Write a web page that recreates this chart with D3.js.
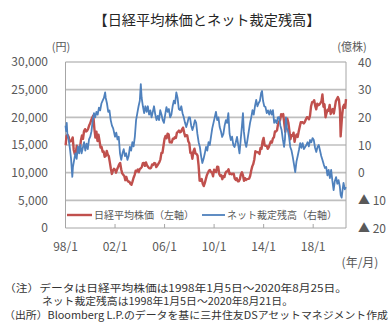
<!DOCTYPE html>
<html><head><meta charset="utf-8">
<script src="https://cdn.jsdelivr.net/npm/d3@7"></script>
<style>
html,body{margin:0;padding:0;background:#fff;}
svg{display:block;}
text{font-family:"Noto Sans CJK JP","Noto Sans",sans-serif;}
</style></head>
<body>
<svg id="c" width="391" height="324"></svg>
<script>
// ---- data ----
const title = "【日経平均株価とネット裁定残高】";
const nikkeiStart = 14956; // 1998-01-05
// month-end closes, Jan 1998 ... Jul 2020
const nikkeiMonthly = [
16628,16831,16527,15641,15671,15830,16379,14108,13406,13565,14883,13842,
14499,14367,15837,16701,16112,17530,17862,17437,17605,17942,18558,18934,
19540,19960,20337,17974,16332,17411,15727,16861,15747,14539,14649,13785,
13843,12883,12999,13934,13262,12969,11860,10713,9774,10366,10697,10542,
9997,10587,11024,11492,11763,10621,9877,9619,9383,8640,9215,8578,
8339,8363,7972,7831,8424,9083,9563,10343,10219,10559,10100,10676,
10783,11041,11715,11761,11236,11858,11325,11081,10823,10771,10899,11488,
11387,11740,11668,11008,11276,11584,11899,12413,13574,13606,14872,16111,
16649,16205,17059,16906,15467,15505,15456,16140,16127,16399,16274,17225,
17383,17604,17287,17400,17875,18138,17248,16569,16785,16737,15680,15307,
13592,13603,12525,13849,14338,13481,13376,13072,11259,8576,8512,8859,
7994,7568,8109,8828,9522,9958,10356,10492,10133,10034,9345,10546,
10198,10126,11089,11057,9768,9382,9537,8824,9369,9202,9937,10228,
10237,10624,9755,9849,9693,9816,9833,8955,8700,8988,8434,8455,
8802,9723,10083,9520,8542,9006,8695,8839,8870,8928,9446,10395,
11138,11559,12397,13860,13774,13677,13668,13388,14455,14327,15661,16291,
14914,14841,14827,14304,14632,15162,15620,15424,16173,16413,17459,17450,
17674,18797,19206,19520,20563,20235,20585,18890,17388,19083,19747,19033,
17518,16026,16758,16666,17234,15575,16569,16887,16449,17425,18308,19114,
19041,19118,18909,19196,19650,20033,19925,19646,20356,22011,22724,22764,
23098,22068,21454,22467,22201,22304,22553,22865,24120,21920,22351,20014,
20773,21385,21205,22258,20601,21275,21521,20704,21755,22927,23293,23656,
23205,21142,16552,20193,21877,22288,21710
];
const nikkeiEnd = 23296; // 2020-08-25

// net arbitrage balance (100M shares), decimal year / value
const arbYears = [
1998.00,1998.05,1998.10,1998.15,1998.25,1998.35,1998.45,1998.55,1998.60,1998.70,1998.80,1998.90,
1999.00,1999.10,1999.20,1999.30,1999.40,1999.50,1999.60,1999.70,1999.80,1999.90,
2000.00,2000.10,2000.20,2000.30,2000.40,2000.50,2000.60,2000.70,2000.80,2000.90,
2001.00,2001.10,2001.20,2001.25,2001.35,2001.45,2001.55,2001.65,2001.75,2001.85,
2002.00,2002.10,2002.20,2002.30,2002.40,2002.50,2002.60,2002.70,2002.80,2002.90,
2003.00,2003.10,2003.20,2003.30,2003.40,2003.50,2003.60,2003.70,2003.80,2003.90,
2004.00,2004.08,2004.15,2004.25,2004.35,2004.45,2004.55,2004.65,2004.75,2004.85,2004.95,
2005.05,2005.15,2005.25,2005.35,2005.45,2005.55,2005.65,2005.75,2005.85,2005.95,
2006.05,2006.15,2006.25,2006.35,2006.45,2006.55,2006.65,2006.75,2006.85,2006.95,
2007.05,2007.15,2007.25,2007.35,2007.45,2007.55,2007.65,2007.75,2007.85,2007.95,
2008.05,2008.15,2008.25,2008.35,2008.45,2008.55,2008.65,2008.75,2008.85,2008.95,
2009.05,2009.15,2009.25,2009.35,2009.45,2009.55,2009.65,2009.75,2009.85,2009.95,
2010.05,2010.15,2010.25,2010.35,2010.45,2010.55,2010.65,2010.75,2010.85,2010.95,
2011.05,2011.15,2011.25,2011.35,2011.45,2011.55,2011.65,2011.75,2011.85,2011.95,
2012.05,2012.15,2012.25,2012.33,2012.40,2012.50,2012.60,2012.70,2012.80,2012.90,
2013.00,2013.10,2013.20,2013.30,2013.40,2013.50,2013.60,2013.70,2013.80,2013.87,2013.95,
2014.05,2014.15,2014.25,2014.35,2014.45,2014.55,2014.65,2014.75,2014.85,2014.95,
2015.05,2015.15,2015.25,2015.35,2015.45,2015.55,2015.65,2015.72,2015.80,2015.88,2015.95,
2016.05,2016.15,2016.25,2016.35,2016.45,2016.55,2016.65,2016.75,2016.85,2016.95,
2017.05,2017.15,2017.25,2017.35,2017.45,2017.55,2017.65,2017.75,2017.85,2017.95,
2018.05,2018.15,2018.25,2018.35,2018.45,2018.55,2018.65,2018.75,2018.85,2018.95,
2019.05,2019.15,2019.25,2019.35,2019.45,2019.55,2019.65,2019.75,2019.85,2019.95,
2020.05,2020.15,2020.22,2020.30,2020.38,2020.45,2020.55,2020.64
];
const arbValues = [
17,15,18,14,12,9,5,-1.5,2,4.6,7,5,
9.5,7,10,7,9,11,8,10.5,8.5,12,
13,15,19,21.5,20,22,21,23.5,22.5,25,
26,27,29,27,25,22,22.5,19,17,16,
13,14.5,12,13,7,4.6,7,8.5,6,7,
4.6,6,9.3,8,11,9.5,13,19,21.5,24,
26,32,27,24,21.5,24,22,24,21,22.5,20,
22,24,21,19,20.5,19,22.6,21,19,18,
21,23.7,22,23,20,21,24,26,25,29,
27,23,22.6,24,21.5,20,18,16.5,18,20,
20,17,15.4,17,19,18,14,11,9.3,6,
3.5,5,7,9.3,8,11,10,13,16,18,
20,22,19,20,16.5,15,12.9,14,17,19,
18,21.5,14,11.8,13,10,9.3,11,12.9,10,
7,12,17,21.5,15,11,9.3,12,15,17.9,
20,22.6,21,24,26.3,24,25.2,26,28.8,29.5,26,
24,23.7,21.5,22.5,21,22.6,21,22.6,18,19,
17.9,20,20.1,17,15.4,12,9.3,12,20,16,15.4,
13,9.3,8,5.7,3,0.2,4,6,8.2,10.7,
9,10.7,8.5,9.3,10,11,9.5,11.8,11,12.5,
11.8,9,7.5,9.3,10,8,6,4.6,3,1.7,
2.1,-1,1,-2,1,-3,-6.3,-3,-1.6,-4,
-2.7,-5,-8.1,-9,-6,-3.7,-6,-5.2
];

const leftTicks = [0,5000,10000,15000,20000,25000,30000];
const rightTicks = [-20,-10,0,10,20,30,40];
const xTickYears = [1998,2002,2006,2010,2014,2018];
const legendLabels = ["日経平均株価（左軸）","ネット裁定残高（右軸）"];
const unitLeft = "(円)", unitRight = "(億株)", unitX = "(年/月)";
const notes = [
  "（注）データは日経平均株価は1998年1月5日～2020年8月25日。",
  "ネット裁定残高は1998年1月5日～2020年8月21日。",
  "（出所）Bloomberg L.P.のデータを基に三井住友DSアセットマネジメント作成"
];

// ---- build series ----
const nikkei = [[1998 + 4/365, nikkeiStart]];
nikkeiMonthly.forEach((v,i)=>{
  let t = 1998 + (i+1)/12 - 0.003;
  if (i === nikkeiMonthly.length-5) t = 2020 + 2.6/12; // March 2020 low (mid-month)
  nikkei.push([t, v]);
});
nikkei.push([2020 + 7.8/12, nikkeiEnd]);
const arb = arbYears.map((y,i)=>[y, arbValues[i]]);

// ---- layout ----
const L = 65.5, R = 346, T = 62, B = 228;
const svg = d3.select("#c");
svg.append("rect").attr("width",391).attr("height",324).attr("fill","#fff");

const x = d3.scaleLinear().domain([1998, 2020.65]).range([L, R]);
const yL = d3.scaleLinear().domain([0, 30000]).range([B, T]);
const yR = d3.scaleLinear().domain([-20, 40]).range([B, T]);

// title
svg.append("text").attr("x",207).attr("y",25).attr("text-anchor","middle")
  .attr("font-size",14.2).attr("fill","#262626").text(title);

// gridlines
svg.append("g").selectAll("line").data(leftTicks.filter(d=>d>0)).join("line")
  .attr("x1",L).attr("x2",R).attr("y1",d=>yL(d)).attr("y2",d=>yL(d))
  .attr("stroke","#bfbfbf").attr("stroke-width",1.6);

// frame (left, right, bottom)
const fr = svg.append("g").attr("stroke","#a6a6a6").attr("stroke-width",1).attr("fill","none");
fr.append("line").attr("x1",L).attr("x2",L).attr("y1",T).attr("y2",B);
fr.append("line").attr("x1",R).attr("x2",R).attr("y1",T).attr("y2",B);
fr.append("line").attr("x1",L).attr("x2",R).attr("y1",B).attr("y2",B);

// x ticks (inside)
svg.append("g").selectAll("line").data(xTickYears.slice(1)).join("line")
  .attr("x1",d=>x(d)).attr("x2",d=>x(d)).attr("y1",B).attr("y2",B-4)
  .attr("stroke","#a6a6a6").attr("stroke-width",1);

// axis labels
svg.append("g").selectAll("text").data(leftTicks).join("text")
  .attr("x",48).attr("y",d=>yL(d)).attr("dy","0.36em").attr("text-anchor","end")
  .attr("font-size",12).attr("fill","#595959").text(d=>d3.format(",")(d));
svg.append("g").selectAll("text").data(rightTicks).join("text")
  .attr("x",358).attr("y",d=>yR(d)+0.5).attr("dy","0.36em").attr("text-anchor","start")
  .attr("font-size",12).attr("fill","#595959")
  .text(d=> d<0 ? "▲ " + (-d) : String(d));
svg.append("g").selectAll("text").data(xTickYears).join("text")
  .attr("x",d=>x(d)).attr("y",247).attr("dy","0.36em").attr("text-anchor","middle")
  .attr("font-size",12).attr("fill","#595959")
  .text(d=> String(d%100).padStart(2,"0") + "/1");
svg.append("text").attr("x",61).attr("y",47.5).attr("dy","0.36em").attr("text-anchor","middle")
  .attr("font-size",11).attr("fill","#595959").text(unitLeft);
svg.append("text").attr("x",352).attr("y",47.5).attr("dy","0.36em").attr("text-anchor","middle")
  .attr("font-size",11).attr("fill","#595959").text(unitRight);
svg.append("text").attr("x",360).attr("y",263).attr("dy","0.36em").attr("text-anchor","middle")
  .attr("font-size",12).attr("fill","#595959").text(unitX);

// lines
const lineL = d3.line().x(d=>x(d[0])).y(d=>yL(d[1]));
const lineR = d3.line().x(d=>x(d[0])).y(d=>yR(d[1]));
svg.append("path").datum(nikkei).attr("d",lineL).attr("fill","none")
  .attr("stroke","#c0504d").attr("stroke-width",2.4).attr("stroke-linejoin","round");
svg.append("path").datum(arb).attr("d",lineR).attr("fill","none")
  .attr("stroke","#4f81bd").attr("stroke-width",1.8).attr("stroke-linejoin","round");

// legend
const lg = svg.append("g");
const ly = 215;
lg.append("line").attr("x1",67).attr("x2",92).attr("y1",ly).attr("y2",ly)
  .attr("stroke","#c0504d").attr("stroke-width",2.4);
lg.append("text").attr("x",94).attr("y",ly).attr("dy","0.36em").attr("font-size",10)
  .attr("fill","#595959").text(legendLabels[0]);
lg.append("line").attr("x1",202).attr("x2",225).attr("y1",ly).attr("y2",ly)
  .attr("stroke","#4f81bd").attr("stroke-width",1.8);
lg.append("text").attr("x",227).attr("y",ly).attr("dy","0.36em").attr("font-size",10)
  .attr("fill","#595959").text(legendLabels[1]);

// notes
const noteX = [4, 42, 4], noteY = [288.5, 301.5, 315], noteW = [343, 251, 384];
notes.forEach((t,i)=>{
  svg.append("text").attr("x",noteX[i]).attr("y",noteY[i]).attr("dy","0.36em")
    .attr("font-size",10.2).attr("fill","#333")
    .attr("textLength",noteW[i]).attr("lengthAdjust","spacingAndGlyphs").text(t);
});
</script>
</body></html>
